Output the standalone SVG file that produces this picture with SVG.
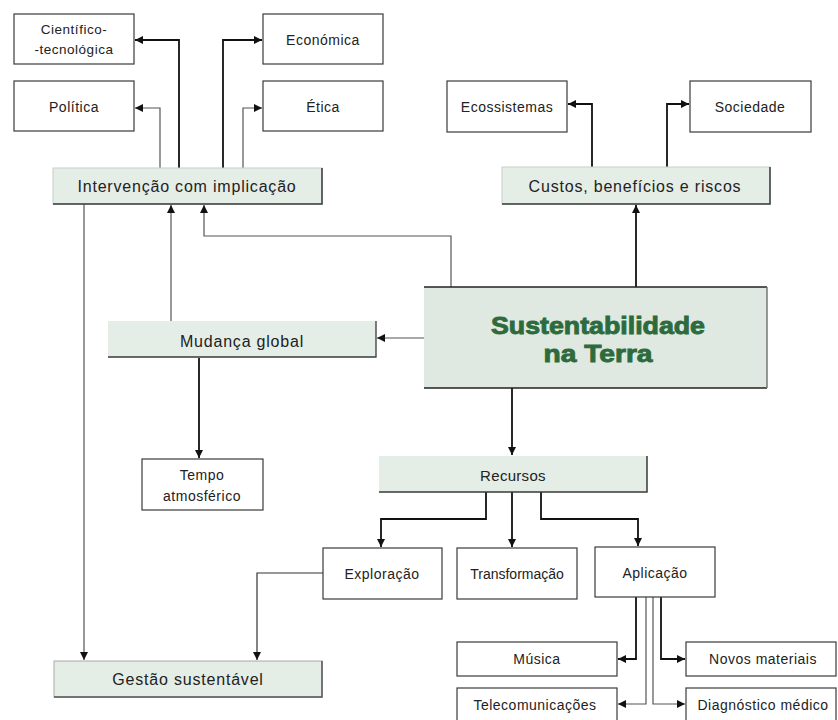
<svg xmlns="http://www.w3.org/2000/svg" width="838" height="720" viewBox="0 0 838 720">
<defs>
<style>
.box{fill:#fff;stroke:#3a3a3a;stroke-width:1.2}
.gbox{fill:#e5ede7;stroke:#c8cfca;stroke-width:1}
.shadow{fill:none;stroke:#3a3a3a;stroke-width:1.5}
.t{font-family:"Liberation Sans",Arial,sans-serif;fill:#222;text-anchor:middle}
.s{font-size:13.5px;letter-spacing:0.5px}
.m{font-size:16px;letter-spacing:0.8px}
.strong{fill:none;stroke:#111;stroke-width:1.8}
.thin{fill:none;stroke:#555;stroke-width:1.2}
.main{font-family:"Liberation Sans",Arial,sans-serif;font-weight:bold;fill:#2d6b3c;stroke:#2d6b3c;stroke-width:0.9;text-anchor:middle;font-size:24px}
</style>
<marker id="ah" markerUnits="userSpaceOnUse" markerWidth="9" markerHeight="9" refX="8" refY="4" orient="auto">
<path d="M0,0 L8,4 L0,8 z" fill="#111"/>
</marker>
</defs>
<rect width="838" height="720" fill="#fff"/>

<g id="connectors">
<path class="thin" d="M160,168 V108 H135" marker-end="url(#ah)"/>
<path class="strong" d="M179,168 V40 H135" marker-end="url(#ah)"/>
<path class="strong" d="M223,168 V40 H262" marker-end="url(#ah)"/>
<path class="thin" d="M243,168 V108 H262" marker-end="url(#ah)"/>
<path class="strong" d="M592,167 V104 H568" marker-end="url(#ah)"/>
<path class="strong" d="M667,167 V104 H689" marker-end="url(#ah)"/>
<path class="strong" d="M636,287 V205" marker-end="url(#ah)"/>
<path class="thin" d="M451,287 V236 H204 V205" marker-end="url(#ah)"/>
<path class="thin" d="M171,321 V205" marker-end="url(#ah)"/>
<path class="thin" d="M424,338 H377" marker-end="url(#ah)"/>
<path class="strong" d="M199,358 V458" marker-end="url(#ah)"/>
<path class="thin" d="M84,204 V660" marker-end="url(#ah)"/>
<path class="strong" d="M512,388 V455" marker-end="url(#ah)"/>
<path class="strong" d="M486,492 V519 H381 V547" marker-end="url(#ah)"/>
<path class="strong" d="M512,492 V547" marker-end="url(#ah)"/>
<path class="strong" d="M541,492 V519 H638 V546" marker-end="url(#ah)"/>
<path class="thin" d="M323,573 H257 V660" marker-end="url(#ah)" style="stroke:#333"/>
<path class="strong" d="M636,597 V659 H618" marker-end="url(#ah)"/>
<path class="thin" d="M646,597 V704 H618" marker-end="url(#ah)"/>
<path class="thin" d="M653,597 V704 H685" marker-end="url(#ah)"/>
<path class="strong" d="M661,597 V659 H685" marker-end="url(#ah)"/>
</g>

<g id="cientifico">
<rect class="box" x="14" y="14" width="120" height="50"/>
<text class="t s" x="74" y="34">Científico-</text>
<text class="t s" x="74" y="54">-tecnológica</text>
</g>
<g id="economica">
<rect class="box" x="263" y="14" width="120" height="50"/>
<text class="t s" x="323" y="45" style="font-size:14px">Económica</text>
</g>
<g id="politica">
<rect class="box" x="14" y="81" width="120" height="50"/>
<text class="t s" x="74" y="112" style="font-size:14px">Política</text>
</g>
<g id="etica">
<rect class="box" x="263" y="81" width="120" height="50"/>
<text class="t s" x="323" y="112" style="font-size:14px">Ética</text>
</g>

<g id="intervencao">
<rect class="gbox" x="53" y="168" width="269" height="36"/>
<polyline class="shadow" points="53,204 322,204 322,168"/>
<text class="t m" x="187" y="192">Intervenção com implicação</text>
</g>

<g id="ecossistemas">
<rect class="box" x="447" y="81" width="120" height="51"/>
<text class="t s" x="507" y="112" style="font-size:14px">Ecossistemas</text>
</g>
<g id="sociedade">
<rect class="box" x="690" y="81" width="121" height="51"/>
<text class="t s" x="750" y="112" style="font-size:14px">Sociedade</text>
</g>

<g id="custos">
<rect class="gbox" x="502" y="167" width="268" height="37"/>
<polyline class="shadow" points="502,204 770,204 770,167"/>
<text class="t m" x="635" y="192">Custos, benefícios e riscos</text>
</g>

<g id="mudanca">
<rect class="gbox" x="108" y="321" width="268" height="36" style="stroke:none"/>
<polyline class="shadow" points="108,357 376,357 376,321" style="stroke-width:1.3"/>
<text class="t m" x="242" y="347">Mudança global</text>
</g>

<g id="sustentabilidade">
<rect x="424" y="287" width="343" height="101" fill="#dfe8e1"/>
<line x1="424" y1="287" x2="767" y2="287" stroke="#222" stroke-width="1.3"/>
<line x1="424" y1="388" x2="767" y2="388" stroke="#222" stroke-width="1.5"/>
<line x1="767" y1="287" x2="767" y2="388" stroke="#777" stroke-width="1.5"/>
<text class="main" x="598" y="334" textLength="214" lengthAdjust="spacingAndGlyphs">Sustentabilidade</text>
<text class="main" x="598" y="362" textLength="109" lengthAdjust="spacingAndGlyphs">na Terra</text>
</g>

<g id="tempo">
<rect class="box" x="142" y="459" width="121" height="51"/>
<text class="t s" x="202" y="480" style="font-size:14px">Tempo</text>
<text class="t s" x="202" y="501" style="font-size:14px">atmosférico</text>
</g>

<g id="recursos">
<rect class="gbox" x="379" y="456" width="268" height="36" style="stroke:none"/>
<polyline class="shadow" points="379,492 647,492 647,456"/>
<text class="t m" x="513" y="481" style="font-size:15px;letter-spacing:0.3px">Recursos</text>
</g>

<g id="exploracao">
<rect class="box" x="323" y="548" width="119" height="51"/>
<text class="t s" x="382" y="579" style="font-size:14px">Exploração</text>
</g>
<g id="transformacao">
<rect class="box" x="457" y="548" width="120" height="51"/>
<text class="t s" x="517" y="579" style="font-size:14px;letter-spacing:0px">Transformação</text>
</g>
<g id="aplicacao">
<rect class="box" x="595" y="547" width="120" height="50"/>
<text class="t s" x="655" y="578" style="font-size:14px">Aplicação</text>
</g>

<g id="gestao">
<rect class="gbox" x="54" y="661" width="268" height="36" style="stroke:#aaa"/>
<polyline class="shadow" points="54,697 322,697 322,661" style="stroke:#555"/>
<text class="t m" x="188" y="685">Gestão sustentável</text>
</g>

<g id="musica">
<rect class="box" x="457" y="642" width="160" height="34"/>
<text class="t s" x="537" y="664" style="font-size:14px">Música</text>
</g>
<g id="novos">
<rect class="box" x="686" y="642" width="150" height="34"/>
<text class="t s" x="763" y="664" style="font-size:14px">Novos materiais</text>
</g>
<g id="telecom">
<rect class="box" x="457" y="688" width="160" height="36"/>
<text class="t s" x="535" y="710" style="font-size:14px">Telecomunicações</text>
</g>
<g id="diagnostico">
<rect class="box" x="686" y="688" width="150" height="36"/>
<text class="t s" x="763" y="710" style="font-size:14px">Diagnóstico médico</text>
</g>
</svg>
